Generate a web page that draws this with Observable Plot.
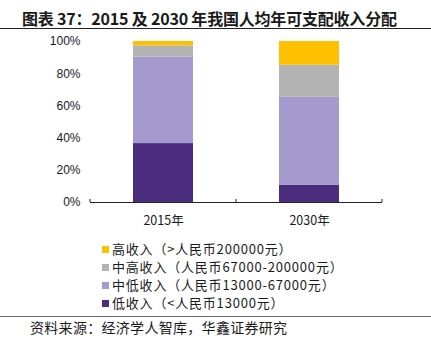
<!DOCTYPE html>
<html>
<head>
<meta charset="utf-8">
<script src="https://cdn.jsdelivr.net/npm/d3@7"></script>
<script src="https://cdn.jsdelivr.net/npm/@observablehq/plot@0.6"></script>
<style>
  html, body { margin: 0; padding: 0; background: #fff; }
  #page { position: relative; width: 431px; height: 344px; overflow: hidden; background: #fff;
          font-family: "Noto Sans CJK SC", "Liberation Sans", sans-serif; color: #1a1a1a; }
  #title { position: absolute; left: 22px; top: 6px; font-size: 16px; font-weight: bold; white-space: nowrap; letter-spacing: -0.2px; }
  #rule1 { position: absolute; left: 0; top: 28px; width: 431px; height: 0; border-top: 1.5px solid #222; }
  #chart { position: absolute; left: 0; top: 33px; }
  #legend { position: absolute; left: 102px; top: 240px; font-size: 13px; letter-spacing: 0.8px; }
  .item { position: absolute; left: 0; white-space: nowrap; height: 18px; line-height: 18px; }
  .sw { position: absolute; left: 0; top: 6px; width: 7px; height: 7px; }
  .lab { position: absolute; left: 10px; top: 0; }
  #rule2 { position: absolute; left: 0; top: 316px; width: 431px; height: 0; border-top: 1px solid #666; }
  #source { position: absolute; left: 30px; top: 317px; font-size: 14px; white-space: nowrap; letter-spacing: 0.3px; }
</style>
</head>
<body>
<div id="page">
  <div id="title">图表 37：2015 及 2030 年我国人均年可支配收入分配</div>
  <div id="rule1"></div>
  <div id="chart"></div>
  <div id="legend"></div>
  <div id="rule2"></div>
  <div id="source">资料来源：经济学人智库，华鑫证券研究</div>
</div>
<script>
// ---- data ----
const years = ["2015年", "2030年"];
const seriesNames = ["低收入", "中低收入", "中高收入", "高收入"];
const legendLabels = [
  "高收入（>人民币200000元）",
  "中高收入（人民币67000-200000元）",
  "中低收入（人民币13000-67000元）",
  "低收入（<人民币13000元）"
];
const lowIncome     = [36.6, 10.6];
const midLowIncome  = [53.8, 55.0];
const midHighIncome = [6.9, 19.7];
const highIncome    = [2.7, 14.7];
const seriesColors = ["#4B2C7F", "#A59ACD", "#B3B3B3", "#FFC000"];
const yTicks = [0, 20, 40, 60, 80, 100];

const seriesValues = [lowIncome, midLowIncome, midHighIncome, highIncome];
const rows = [];
seriesNames.forEach((s, i) => years.forEach((y, j) => rows.push({year: y, series: s, value: seriesValues[i][j]})));

const chart = Plot.plot({
  width: 431,
  height: 200,
  marginTop: 8,
  marginBottom: 31,
  marginLeft: 90,
  marginRight: 49,
  style: {background: "transparent", fontFamily: "'Liberation Sans', Arial, 'Noto Sans CJK SC', sans-serif", fontSize: "12px", color: "#1a1a1a"},
  x: {domain: years, padding: 0, label: null},
  y: {domain: [0, 100], label: null},
  color: {domain: seriesNames, range: seriesColors},
  marks: [
    Plot.barY(rows, {x: "year", y: "value", fill: "series", order: seriesNames, insetLeft: 43, insetRight: 43}),
    Plot.axisY({ticks: yTicks, tickSize: 0, tickPadding: 10, tickFormat: d => d + "%", fontSize: 12, label: null}),
    Plot.axisX({tickSize: 0, tickPadding: 14, fontSize: 12.5, label: null, fontFamily: "'Noto Sans CJK SC', sans-serif"}),
    Plot.ruleY([0], {stroke: "#222", strokeWidth: 1})
  ]
});
document.getElementById("chart").appendChild(chart);

// small upward ticks at band edges, positioned from the x scale
const xs = chart.scale("x");
const y0 = chart.scale("y").apply(0);
const edges = years.map(y => xs.apply(y)).concat([xs.apply(years[years.length - 1]) + xs.bandwidth]);
d3.select(chart).append("g")
  .selectAll("line").data(edges).join("line")
  .attr("x1", d => d).attr("x2", d => d)
  .attr("y1", y0).attr("y2", y0 - 3)
  .attr("stroke", "#222").attr("stroke-width", 1);

// legend
const legend = document.getElementById("legend");
const legendOrder = [3, 2, 1, 0];
const legendTops = [0, 18, 36, 54];
legendOrder.forEach((si, k) => {
  const item = document.createElement("div");
  item.className = "item";
  item.style.top = legendTops[k] + "px";
  const sw = document.createElement("div");
  sw.className = "sw";
  sw.style.background = seriesColors[si];
  const lab = document.createElement("div");
  lab.className = "lab";
  lab.textContent = legendLabels[k];
  item.appendChild(sw); item.appendChild(lab);
  legend.appendChild(item);
});
</script>
</body>
</html>
